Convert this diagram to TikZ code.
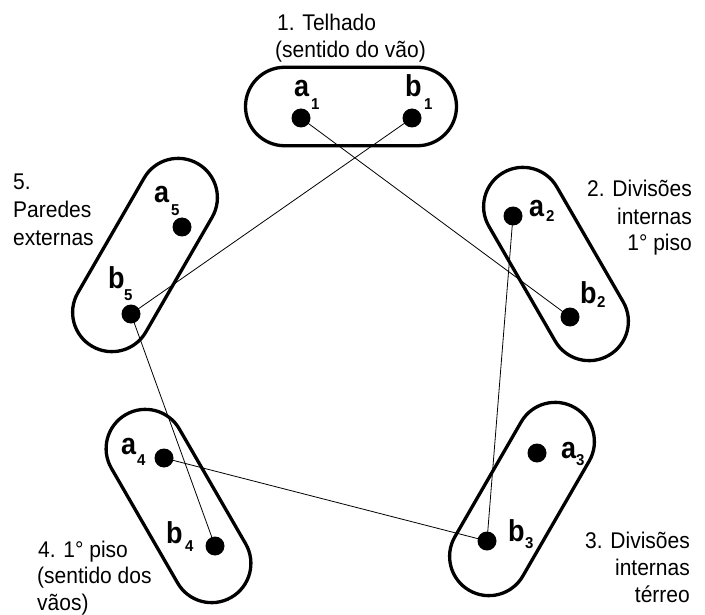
\documentclass[tikz,border=0pt]{standalone}
\usepackage{graphicx}
\usepackage{fontspec}
\setmainfont{Liberation Sans}
\newcommand{\vstretch}[2]{\scalebox{1}[#1]{#2}}
\begin{document}
\begin{tikzpicture}[x=1pt,y=-1pt,
  pill/.style={draw, line width=3.3pt, rectangle, minimum width=211pt, minimum height=78.5pt, rounded corners=39.2pt, inner sep=0pt},
  dot/.style={circle, fill=black, inner sep=0pt, minimum size=19pt},
  conn/.style={line width=0.8pt},
  labl/.style={inner sep=0pt, anchor=base west, font=\fontsize{21}{25}\selectfont},
  labr/.style={inner sep=0pt, anchor=base east, font=\fontsize{21}{25}\selectfont},
  ptletter/.style={inner sep=0pt, anchor=base west, font=\fontsize{27}{30}\selectfont\bfseries},
  ptsub/.style={inner sep=0pt, anchor=base west, font=\fontsize{15}{17}\selectfont\bfseries}]
\useasboundingbox (0,0) rectangle (705,615);

% groups
\node[pill] (p1) at (351,106.5) {};
\node[pill, rotate=-60] (p2) at (556,264) {};
\node[pill, rotate=60] (p3) at (522,499) {};
\node[pill, rotate=-60] (p4) at (178.5,506) {};
\node[pill, rotate=60] (p5) at (145,255) {};

% points
\node[dot] (a1) at (301,118) {};
\node[dot] (b1) at (412,118) {};
\node[dot] (a2) at (513,216) {};
\node[dot] (b2) at (570,317) {};
\node[dot] (a3) at (537,453) {};
\node[dot] (b3) at (487,541) {};
\node[dot] (a4) at (164,458) {};
\node[dot] (b4) at (215,546) {};
\node[dot] (a5) at (182,227) {};
\node[dot] (b5) at (131,314) {};

% connectors
\draw[conn] (a1.center) -- (b2.center);
\draw[conn] (b1.center) -- (b5.center);
\draw[conn] (a2.center) -- (b3.center);
\draw[conn] (b5.center) -- (b4.center);
\draw[conn] (a4.center) -- (b3.center);

% point labels
\node[ptletter] (ta1) at (294,97) {\vstretch{1.12}{a}};
\node[ptsub] (sa1) at (311,110) {\vstretch{1.05}{1}};
\node[ptletter] (tb1) at (405,97) {\vstretch{1.12}{b}};
\node[ptsub] (sb1) at (424,110) {\vstretch{1.05}{1}};
\node[ptletter] (ta2) at (529,216.5) {\vstretch{1.12}{a}};
\node[ptsub] (sa2) at (546,222) {\vstretch{1.05}{2}};
\node[ptletter] (tb2) at (580,303) {\vstretch{1.12}{b}};
\node[ptsub] (sb2) at (597,308) {\vstretch{1.05}{2}};
\node[ptletter] (ta3) at (561,458) {\vstretch{1.12}{a}};
\node[ptsub] (sa3) at (576,465) {\vstretch{1.05}{3}};
\node[ptletter] (tb3) at (508,541.5) {\vstretch{1.12}{b}};
\node[ptsub] (sb3) at (525,548) {\vstretch{1.05}{3}};
\node[ptletter] (ta4) at (121,454) {\vstretch{1.12}{a}};
\node[ptsub] (sa4) at (137,465) {\vstretch{1.05}{4}};
\node[ptletter] (tb4) at (166,543) {\vstretch{1.12}{b}};
\node[ptsub] (sb4) at (185,551.5) {\vstretch{1.05}{4}};
\node[ptletter] (ta5) at (154,202.5) {\vstretch{1.12}{a}};
\node[ptsub] (sa5) at (171,215) {\vstretch{1.05}{5}};
\node[ptletter] (tb5) at (108,288) {\vstretch{1.12}{b}};
\node[ptsub] (sb5) at (124,300) {\vstretch{1.05}{5}};

% group labels
\node[labl] (g1a) at (277,31) {\vstretch{1.08}{1. Telhado}};
\node[labl] (g1b) at (275,58) {\vstretch{1.08}{(sentido do vão)}};
\node[labr] (g2a) at (692,197) {\vstretch{1.08}{2. Divisões}};
\node[labr] (g2b) at (692,225) {\vstretch{1.08}{internas}};
\node[labr] (g2c) at (692,251) {\vstretch{1.08}{1° piso}};
\node[labr] (g3a) at (690,548) {\vstretch{1.08}{3. Divisões}};
\node[labr] (g3b) at (690,575) {\vstretch{1.08}{internas}};
\node[labr] (g3c) at (690,602) {\vstretch{1.08}{térreo}};
\node[labl] (g4a) at (38,557) {\vstretch{1.08}{4. 1° piso}};
\node[labl] (g4b) at (37,583) {\vstretch{1.08}{(sentido dos}};
\node[labl] (g4c) at (37,610) {\vstretch{1.08}{vãos)}};
\node[labl] (g5a) at (13,190) {\vstretch{1.08}{5.}};
\node[labl] (g5b) at (13,218) {\vstretch{1.08}{Paredes}};
\node[labl] (g5c) at (13,246) {\vstretch{1.08}{externas}};
\end{tikzpicture}
\end{document}
